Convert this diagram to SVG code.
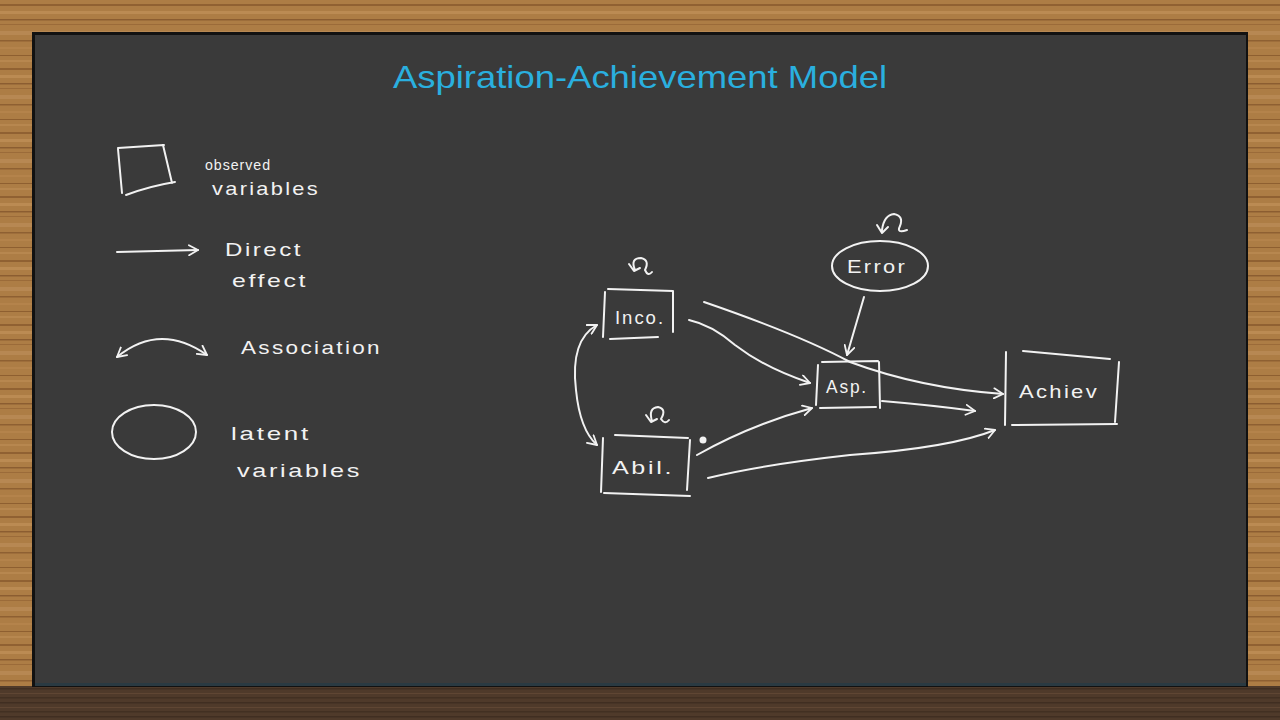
<svg xmlns="http://www.w3.org/2000/svg" width="1280" height="720" viewBox="0 0 1280 720">
<defs>
<pattern id="wood" width="1280" height="64" patternUnits="userSpaceOnUse">
<rect width="1280" height="64" fill="#ad7d45"/>
<rect y="4" width="1280" height="2" fill="#7d4f24" opacity="0.6"/>
<rect y="11" width="1280" height="3" fill="#c99a62" opacity="0.5"/>
<rect y="19" width="1280" height="1.5" fill="#6e4320" opacity="0.55"/>
<rect y="24" width="1280" height="1" fill="#8a5a2e" opacity="0.5"/>
<rect y="31" width="1280" height="4" fill="#c49463" opacity="0.45"/>
<rect y="40" width="1280" height="1.5" fill="#7a4c24" opacity="0.6"/>
<rect y="47" width="1280" height="2" fill="#bb8a52" opacity="0.5"/>
<rect y="55" width="1280" height="1" fill="#74461f" opacity="0.55"/>
<rect y="60" width="1280" height="2" fill="#c69660" opacity="0.4"/>
</pattern>
<pattern id="woodDark" width="1280" height="14" patternUnits="userSpaceOnUse">
<rect width="1280" height="14" fill="#4f3a2a"/>
<rect y="2" width="1280" height="1.5" fill="#3c2b1f" opacity="0.8"/>
<rect y="7" width="1280" height="1" fill="#634936" opacity="0.8"/>
<rect y="11" width="1280" height="1.5" fill="#3e2d21" opacity="0.8"/>
</pattern>
<marker id="ah" viewBox="0 0 12 12" refX="10" refY="6" markerWidth="12" markerHeight="12" markerUnits="userSpaceOnUse" orient="auto-start-reverse">
<path d="M1,1 L10,6 L1,11" fill="none" stroke="#f2f2f2" stroke-width="1.8" stroke-linecap="round" stroke-linejoin="round"/>
</marker>
<style>
.ink{fill:none;stroke:#f2f2f2;stroke-width:2;stroke-linecap:round;stroke-linejoin:round}
.hand{font-family:"Liberation Sans",Arial,sans-serif;fill:#f2f2f2;font-size:19px;letter-spacing:2px}
.small{font-size:15px;letter-spacing:1px}
.title{font-family:"Liberation Sans",Arial,sans-serif;fill:#2aafdf;font-size:32px}
</style>
</defs>
<rect width="1280" height="720" fill="url(#wood)"/>
<rect x="0" y="686" width="1280" height="34" fill="url(#woodDark)"/>
<rect x="32" y="32" width="1216" height="655" fill="#111"/>
<rect x="35" y="35" width="1211" height="649" fill="#3a3a3a"/>
<rect x="35" y="683" width="1211" height="3" fill="#2a3a42"/>

<text class="title" x="640" y="88" text-anchor="middle" textLength="494" lengthAdjust="spacingAndGlyphs">Aspiration-Achievement Model</text>

<g id="legend">
<g id="legend-observed">
<path class="ink" d="M118,148 L164,145 M163,145 L172,183 M118,149 L122,193 M126,195 Q150,186 175,182"/>
<text class="hand small" x="205" y="170" textLength="66" lengthAdjust="spacingAndGlyphs">observed</text>
<text class="hand" x="212" y="195" textLength="108" lengthAdjust="spacingAndGlyphs">variables</text>
</g>
<g id="legend-direct">
<path class="ink" d="M117,252 L198,250" marker-end="url(#ah)"/>
<text class="hand" x="225" y="256" textLength="78" lengthAdjust="spacingAndGlyphs">Direct</text>
<text class="hand" x="232" y="287" textLength="76" lengthAdjust="spacingAndGlyphs">effect</text>
</g>
<g id="legend-association">
<path class="ink" d="M117,357 Q160,322 207,355" marker-start="url(#ah)" marker-end="url(#ah)"/>
<text class="hand" x="241" y="354" textLength="141" lengthAdjust="spacingAndGlyphs">Association</text>
</g>
<g id="legend-latent">
<ellipse class="ink" cx="154" cy="432" rx="42" ry="27"/>
<text class="hand" x="231" y="440" textLength="80" lengthAdjust="spacingAndGlyphs">latent</text>
<text class="hand" x="237" y="477" textLength="125" lengthAdjust="spacingAndGlyphs">variables</text>
</g>
</g>

<g id="connectors">
<path class="ink" d="M704,302 Q800,335 850,362 Q920,388 1003,394" marker-end="url(#ah)"/>
<path class="ink" d="M689,320 Q712,325 735,345 Q765,368 810,383" marker-end="url(#ah)"/>
<path class="ink" d="M864,297 L847,355" marker-end="url(#ah)"/>
<path class="ink" d="M697,455 Q750,425 812,408" marker-end="url(#ah)"/>
<path class="ink" d="M882,401 Q930,405 975,411" marker-end="url(#ah)"/>
<path class="ink" d="M708,478 Q760,465 850,455 Q950,448 995,430" marker-end="url(#ah)"/>
<path class="ink" d="M597,325 Q570,340 576,390 Q580,430 597,445" marker-start="url(#ah)" marker-end="url(#ah)"/>
<path class="ink" d="M635,270 Q630,258 641,258 Q650,260 645,270 Q648,277 652,272 M629,264 L634,271 L640,268"/>
<path class="ink" d="M652,421 Q648,408 658,407 Q667,409 661,419 Q665,425 669,420 M646,415 L651,422 L657,419"/>
<path class="ink" d="M882,230 Q884,215 894,214 Q904,216 900,226 Q896,234 907,230 M877,225 L882,233 L888,227"/>
<circle cx="703" cy="440" r="3.5" fill="#f2f2f2"/>
</g>

<g id="node-inco">
<path class="ink" d="M608,289 L673,291 M605,292 L603,337 M673,291 L673,332 M610,339 L658,337"/>
<text class="hand" x="640" y="324" text-anchor="middle" textLength="50" lengthAdjust="spacingAndGlyphs">Inco.</text>
</g>
<g id="node-abil">
<path class="ink" d="M615,435 L688,438 M603,438 L601,492 M690,440 L687,490 M604,493 L690,496"/>
<text class="hand" x="643" y="474" text-anchor="middle" textLength="62" lengthAdjust="spacingAndGlyphs">Abil.</text>
</g>
<g id="node-asp">
<path class="ink" d="M822,362 L878,361 M818,365 L816,405 M879,362 L880,408 M820,408 L876,407"/>
<text class="hand" x="847" y="393" text-anchor="middle" textLength="42" lengthAdjust="spacingAndGlyphs">Asp.</text>
</g>
<g id="node-achiev">
<path class="ink" d="M1023,351 L1110,359 M1006,352 L1005,425 M1119,362 L1115,422 M1012,425 L1117,424"/>
<text class="hand" x="1059" y="398" text-anchor="middle" textLength="80" lengthAdjust="spacingAndGlyphs">Achiev</text>
</g>
<g id="node-error">
<ellipse class="ink" cx="880" cy="266" rx="48" ry="25"/>
<text class="hand" x="877" y="273" text-anchor="middle" textLength="60" lengthAdjust="spacingAndGlyphs">Error</text>
</g>
</svg>
